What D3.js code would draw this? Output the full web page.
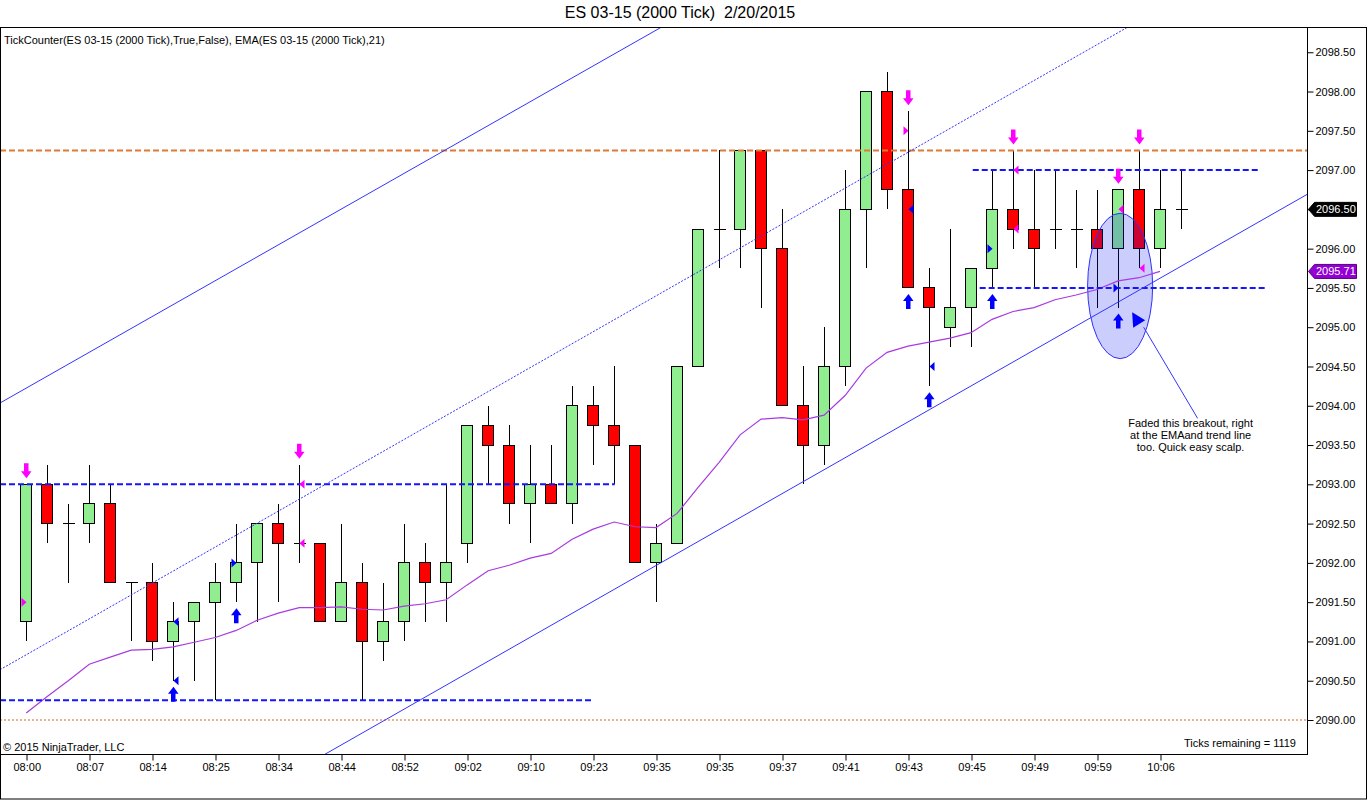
<!DOCTYPE html>
<html>
<head>
<meta charset="utf-8">
<script src="https://cdn.jsdelivr.net/npm/d3@7"></script>
<style>
  body { margin: 0; background: #ffffff; }
  svg { display: block; font-family: "Liberation Sans", Arial, sans-serif; }
</style>
</head>
<body>
<div id="chart"></div>
<script>
// ---- data (ES 03-15, 2000 tick bars) ----
// x axis labels, one every 3 bars starting at bar 0
const timeLabels = ["08:00", "08:07", "08:14", "08:25", "08:34", "08:44", "08:52", "09:02", "09:10", "09:23",
                    "09:35", "09:35", "09:37", "09:41", "09:43", "09:45", "09:49", "09:59", "10:06"];

const opens = [2091.25, 2093.00, 2092.50, 2092.50, 2092.75, 2091.75, 2091.75, 2091.00, 2091.25, 2091.50,
               2091.75, 2092.00, 2092.50, 2092.25, 2092.25, 2091.25, 2091.75, 2091.00, 2091.25, 2092.00,
               2091.75, 2092.25, 2093.75, 2093.50, 2092.75, 2093.00, 2092.75, 2094.00, 2093.75, 2093.50,
               2092.00, 2092.25, 2094.50, 2096.25, 2096.25, 2097.25, 2096.00, 2094.00, 2093.50, 2094.50,
               2096.50, 2098.00, 2096.75, 2095.50, 2095.00, 2095.25, 2095.75, 2096.50, 2096.25, 2096.25,
               2096.25, 2096.25, 2096.00, 2096.75, 2096.00, 2096.50];
const highs = [2093.00, 2093.25, 2092.75, 2093.25, 2093.00, 2091.75, 2092.00, 2091.50, 2091.50, 2092.00,
               2092.50, 2092.50, 2092.75, 2093.25, 2092.25, 2092.50, 2092.00, 2091.75, 2092.50, 2092.25,
               2093.00, 2093.75, 2094.00, 2093.75, 2093.50, 2093.50, 2094.25, 2094.25, 2094.50, 2093.50,
               2092.50, 2094.50, 2096.25, 2097.25, 2097.25, 2097.25, 2096.50, 2094.50, 2095.00, 2097.00,
               2098.00, 2098.25, 2097.75, 2095.75, 2096.25, 2095.75, 2097.00, 2097.25, 2097.00, 2097.00,
               2096.75, 2096.75, 2096.75, 2097.25, 2097.00, 2097.00];
const lows = [2091.00, 2092.25, 2091.75, 2092.25, 2091.75, 2091.00, 2090.75, 2090.50, 2090.50, 2090.25,
              2091.50, 2091.25, 2091.50, 2092.00, 2091.25, 2091.25, 2090.25, 2090.75, 2091.00, 2091.25,
              2091.25, 2092.00, 2093.00, 2092.50, 2092.25, 2092.75, 2092.50, 2093.25, 2093.00, 2092.00,
              2091.50, 2092.25, 2094.50, 2095.75, 2095.75, 2095.25, 2094.00, 2093.00, 2093.25, 2094.25,
              2095.75, 2096.50, 2095.50, 2094.25, 2094.75, 2094.75, 2095.50, 2096.00, 2095.50, 2096.00,
              2095.75, 2095.25, 2095.25, 2095.75, 2095.75, 2096.25];
const closes = [2093.00, 2092.50, 2092.50, 2092.75, 2091.75, 2091.75, 2091.00, 2091.25, 2091.50, 2091.75,
                2092.00, 2092.50, 2092.25, 2092.25, 2091.25, 2091.75, 2091.00, 2091.25, 2092.00, 2091.75,
                2092.00, 2093.75, 2093.50, 2092.75, 2093.00, 2092.75, 2094.00, 2093.75, 2093.50, 2092.00,
                2092.25, 2094.50, 2096.25, 2096.25, 2097.25, 2096.00, 2094.00, 2093.50, 2094.50, 2096.50,
                2098.00, 2096.75, 2095.50, 2095.25, 2095.25, 2095.75, 2096.50, 2096.25, 2096.00, 2096.25,
                2096.25, 2096.00, 2096.75, 2096.00, 2096.50, 2096.50];

// EMA(21) values, bars 0..54
const emaValues = [2090.09, 2090.30, 2090.50, 2090.71, 2090.80, 2090.89, 2090.90, 2090.93, 2090.99, 2091.05,
                   2091.14, 2091.27, 2091.36, 2091.43, 2091.43, 2091.44, 2091.41, 2091.40, 2091.45, 2091.48,
                   2091.53, 2091.72, 2091.90, 2091.97, 2092.06, 2092.12, 2092.30, 2092.43, 2092.52, 2092.46,
                   2092.45, 2092.63, 2092.96, 2093.28, 2093.63, 2093.83, 2093.85, 2093.82, 2093.88, 2094.13,
                   2094.48, 2094.68, 2094.76, 2094.81, 2094.86, 2094.93, 2095.10, 2095.20, 2095.25, 2095.35,
                   2095.41, 2095.48, 2095.59, 2095.63, 2095.71];

// TickCounter signals
const downArrowBars = [0, 13, 42, 47, 52, 53];
const upArrowBars = [7, 10, 42, 43, 46, 52];
// small triangles: bar, price, side ("L" = left of bar pointing right, "R" = right of bar pointing left), colour
const triangles = [
  [0, 2091.50, "L", "#ff00ff"], [13, 2093.00, "R", "#ff00ff"], [13, 2092.25, "R", "#ff00ff"],
  [42, 2097.50, "L", "#ff00ff"], [47, 2097.00, "R", "#ff00ff"], [47, 2096.25, "R", "#ff00ff"],
  [52, 2096.50, "R", "#ff00ff"], [53, 2095.75, "R", "#ff00ff"],
  [7, 2091.25, "R", "#0000ff"], [7, 2090.50, "R", "#0000ff"], [42, 2096.50, "R", "#0000ff"],
  [43, 2094.50, "R", "#0000ff"], [10, 2092.00, "L", "#0000ff"], [46, 2096.00, "L", "#0000ff"],
  [52, 2095.50, "L", "#0000ff"]
];

// drawing objects, anchored in (bar index, price)
const channelLines = [[-1.25, 2094.035, 40, 2100.30], [10, 2088.92, 61, 2096.69]];
const midLine = [-1.25, 2090.64, 61, 2100.12];
const dashLevels = [[2093.00, -1.25, 28.03], [2090.25, -1.25, 27.0], [2097.00, 45.08, 58.7], [2095.50, 45.41, 59.08]];
const resistance = 2097.25;
const floorLevel = 2090.00;
const ellipseBox = [50.55, 2096.45, 53.65, 2094.60];
const notePoint = [53.22, 2095.00, 55.79, 2093.84];
const noteLines = ["Faded this breakout, right", "at the EMAand trend line", "too. Quick easy scalp."];
const lastPrice = 2096.50;
const lastEma = 2095.71;
const ticksRemaining = 1119;

// ---- layout ----
const width = 1368, height = 800;
const plot = {left: 0, top: 27, right: 1307, bottom: 754};

const svg = d3.select("#chart")
  .append("svg")
    .attr("width", width)
    .attr("height", height);

const x = d3.scaleLinear().domain([-1.25, 61]).range([plot.left, plot.right]);
const y = d3.scaleLinear().domain([2090, 2098.5]).range([720, 52.25]);
const px = i => Math.round(x(i));

svg.append("defs").append("clipPath").attr("id", "plotClip")
  .append("rect")
    .attr("x", plot.left).attr("y", plot.top)
    .attr("width", plot.right - plot.left).attr("height", plot.bottom - plot.top);

// title (two spaces before the date, kept with white-space: pre)
svg.append("text")
  .attr("x", 680).attr("y", 18)
  .attr("text-anchor", "middle")
  .style("font-size", "16px")
  .style("white-space", "pre")
  .text("ES 03-15 (2000 Tick)  2/20/2015");

const g = svg.append("g").attr("clip-path", "url(#plotClip)");

// candles
const bars = opens.map((o, i) => ({i, o, h: highs[i], l: lows[i], c: closes[i]}));

g.append("g").selectAll("line")
  .data(bars)
  .join("line")
    .attr("x1", d => px(d.i) + 0.5).attr("x2", d => px(d.i) + 0.5)
    .attr("y1", d => y(d.h)).attr("y2", d => y(d.l))
    .attr("stroke", "#000").attr("shape-rendering", "crispEdges");

g.append("g").selectAll("rect")
  .data(bars.filter(d => d.o !== d.c))
  .join("rect")
    .attr("x", d => px(d.i) - 5.5)
    .attr("y", d => y(Math.max(d.o, d.c)))
    .attr("width", 11)
    .attr("height", d => y(Math.min(d.o, d.c)) - y(Math.max(d.o, d.c)))
    .attr("fill", d => d.c > d.o ? "#90ee90" : "#ff0000")
    .attr("stroke", "#000").attr("shape-rendering", "crispEdges");

// doji bars
g.append("g").selectAll("line")
  .data(bars.filter(d => d.o === d.c))
  .join("line")
    .attr("x1", d => px(d.i) - 5.5).attr("x2", d => px(d.i) + 6.5)
    .attr("y1", d => y(d.o)).attr("y2", d => y(d.o))
    .attr("stroke", "#000").attr("shape-rendering", "crispEdges");

// highlight ellipse
g.append("ellipse")
  .attr("cx", (x(ellipseBox[0]) + x(ellipseBox[2])) / 2)
  .attr("cy", (y(ellipseBox[1]) + y(ellipseBox[3])) / 2)
  .attr("rx", (x(ellipseBox[2]) - x(ellipseBox[0])) / 2)
  .attr("ry", (y(ellipseBox[3]) - y(ellipseBox[1])) / 2)
  .attr("fill", "rgba(10,20,245,0.21)")
  .attr("stroke", "#3030ff");

// EMA
g.append("path")
  .datum(emaValues)
  .attr("d", d3.line().x((d, i) => x(i)).y(d => y(d)))
  .attr("fill", "none")
  .attr("stroke", "#a83be0")
  .attr("stroke-width", 1.2);

// horizontal levels
g.append("line")
  .attr("x1", plot.left).attr("x2", plot.right)
  .attr("y1", y(floorLevel)).attr("y2", y(floorLevel))
  .attr("stroke", "#d2691e").attr("stroke-dasharray", "2,2");
g.append("line")
  .attr("x1", plot.left).attr("x2", plot.right)
  .attr("y1", y(resistance)).attr("y2", y(resistance))
  .attr("stroke", "#dd7a35").attr("stroke-width", 2).attr("stroke-dasharray", "6,3");
g.append("g").selectAll("line")
  .data(dashLevels)
  .join("line")
    .attr("x1", d => x(d[1])).attr("x2", d => x(d[2]))
    .attr("y1", d => y(d[0])).attr("y2", d => y(d[0]))
    .attr("stroke", "#1515ff").attr("stroke-width", 2).attr("stroke-dasharray", "6,3");

// trend channel
g.append("g").selectAll("line")
  .data(channelLines)
  .join("line")
    .attr("x1", d => x(d[0])).attr("y1", d => y(d[1]))
    .attr("x2", d => x(d[2])).attr("y2", d => y(d[3]))
    .attr("stroke", "#3333ff");
g.append("line")
  .attr("x1", x(midLine[0])).attr("y1", y(midLine[1]))
  .attr("x2", x(midLine[2])).attr("y2", y(midLine[3]))
  .attr("stroke", "#3333ff").attr("stroke-dasharray", "2,1.5");

// signal arrows
const arrowDown = (cx, t) => [[cx - 2, t - 15], [cx + 2.5, t - 15], [cx + 2.5, t - 7], [cx + 5.5, t - 7],
                              [cx + 0.5, t], [cx - 5, t - 7], [cx - 2, t - 7]];
const arrowUp = (cx, t) => [[cx - 2, t + 15], [cx + 2.5, t + 15], [cx + 2.5, t + 7], [cx + 5.5, t + 7],
                            [cx + 0.5, t], [cx - 5, t + 7], [cx - 2, t + 7]];

g.append("g").selectAll("polygon")
  .data(downArrowBars)
  .join("polygon")
    .attr("points", i => arrowDown(px(i), y(highs[i]) - 6).join(" "))
    .attr("fill", "#ff00ff");
g.append("g").selectAll("polygon")
  .data(upArrowBars)
  .join("polygon")
    .attr("points", i => arrowUp(px(i), y(lows[i]) + 6).join(" "))
    .attr("fill", "#0000ff");

g.append("g").selectAll("polygon")
  .data(triangles)
  .join("polygon")
    .attr("points", d => {
      const cx = px(d[0]) + 0.5, cy = y(d[1]);
      const s = d[2] === "L" ? -5 : 5;
      return [[cx, cy], [cx + s, cy - 4.5], [cx + s, cy + 4.5]].join(" ");
    })
    .attr("fill", d => d[3]);

// annotation arrow + note
const ax = x(notePoint[0]), ay = y(notePoint[1]);
g.append("polygon")
  .attr("points", [[ax - 11.5, ay - 15], [ax - 10.5, ay + 0.5], [ax + 1.5, ay - 7]].join(" "))
  .attr("fill", "#0000ff");
g.append("line")
  .attr("x1", ax).attr("y1", ay)
  .attr("x2", x(notePoint[2])).attr("y2", y(notePoint[3]))
  .attr("stroke", "#3333ff");
g.append("text")
  .attr("text-anchor", "middle")
  .style("font-size", "11px")
  .selectAll("tspan")
  .data(noteLines)
  .join("tspan")
    .attr("x", x(notePoint[2]) - 7)
    .attr("y", (d, i) => y(notePoint[3]) + 9 + i * 12)
    .text(d => d);

// indicator caption, copyright and tick counter
svg.append("text")
  .attr("x", 4).attr("y", 44)
  .style("font-size", "11px")
  .text("TickCounter(ES 03-15 (2000 Tick),True,False), EMA(ES 03-15 (2000 Tick),21)");
svg.append("text")
  .attr("x", 3).attr("y", 751)
  .style("font-size", "11px")
  .text("© 2015 NinjaTrader, LLC");
svg.append("text")
  .attr("x", 1296).attr("y", 747)
  .attr("text-anchor", "end")
  .style("font-size", "11px")
  .text("Ticks remaining = " + ticksRemaining);

// axes
const yAxis = d3.axisRight(y)
  .tickValues(d3.range(2090, 2098.51, 0.5))
  .tickFormat(d3.format(".2f"))
  .tickSize(6).tickPadding(2);
svg.append("g")
  .attr("transform", `translate(${plot.right + 0.5},0)`)
  .call(yAxis)
  .call(a => a.select(".domain").remove())
  .call(a => a.selectAll("text").attr("fill", "#000").style("font-size", "11px").style("font-family", "Liberation Sans, Arial, sans-serif"));

const xAxis = d3.axisBottom(x)
  .tickValues(timeLabels.map((d, k) => k * 3))
  .tickFormat((d, k) => timeLabels[k])
  .tickSize(6).tickPadding(3);
svg.append("g")
  .attr("transform", `translate(0.5,${plot.bottom + 0.5})`)
  .call(xAxis)
  .call(a => a.select(".domain").remove())
  .call(a => a.selectAll("line").attr("transform", d => `translate(${px(d) - x(d)},0)`))
  .call(a => a.selectAll("text").attr("fill", "#000").style("font-size", "11px").style("font-family", "Liberation Sans, Arial, sans-serif"));

// frames
svg.append("rect")
  .attr("x", 0.5).attr("y", plot.top + 0.5)
  .attr("width", width - 2).attr("height", height - plot.top - 1.5)
  .attr("fill", "none").attr("stroke", "#000");
svg.append("rect")
  .attr("x", plot.left + 0.5).attr("y", plot.top + 0.5)
  .attr("width", plot.right - plot.left).attr("height", plot.bottom - plot.top)
  .attr("fill", "none").attr("stroke", "#000");

// price tags on the axis
const tags = [[lastPrice, "#000000", "#000000"], [lastEma, "#9400d3", "#5a007f"]];
const tag = svg.append("g").selectAll("g").data(tags).join("g");
tag.append("polygon")
  .attr("points", d => {
    const cy = y(d[0]), l = plot.right + 1.5;
    return [[l, cy], [l + 6, cy - 7], [l + 48, cy - 7], [l + 48, cy + 7], [l + 6, cy + 7]].join(" ");
  })
  .attr("fill", d => d[1]).attr("stroke", d => d[2]);
tag.append("text")
  .attr("x", plot.right + 9).attr("y", d => y(d[0]) + 4)
  .attr("fill", "#fff")
  .style("font-size", "11px")
  .text(d => d[0].toFixed(2));
</script>
</body>
</html>
